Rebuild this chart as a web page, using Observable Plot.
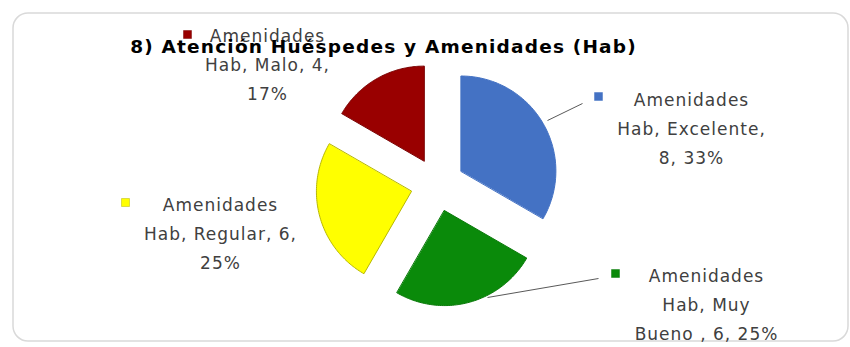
<!DOCTYPE html>
<html>
<head>
<meta charset="utf-8">
<script src="https://cdn.jsdelivr.net/npm/d3@7"></script>
<script src="https://cdn.jsdelivr.net/npm/@observablehq/plot@0.6"></script>
<style>
  html, body { margin: 0; padding: 0; background: #fff; }
  svg { display: block; }
</style>
</head>
<body>
<div id="chart"></div>
<script>
// ---- data ----
const title = "8) Atención Huéspedes y Amenidades (Hab)";
const categories = ["Excelente", "Muy Bueno ", "Regular", "Malo"];
const values = [8, 6, 6, 4];
const percents = ["33%", "25%", "25%", "17%"];
const colors = ["#4472C4", "#0A8A0A", "#FFFF00", "#990000"];
const edgeColors = ["#4472C4", "#0A7A0A", "#B8B800", "#7A0000"];
const labelLines = [
  ["Amenidades", "Hab, Excelente,", "8, 33%"],
  ["Amenidades", "Hab, Muy", "Bueno , 6, 25%"],
  ["Amenidades", "Hab, Regular, 6,", "25%"],
  ["Amenidades", "Hab, Malo, 4,", "17%"]
];

// ---- layout (pixels) ----
const W = 850, H = 347;
const cx = 437, cy = 184, R = 95, explode = 27;
const labelPos = [ // [text center x, first line y, square x, square y]
  [691, 100, 598, 96],
  [706, 276, 615, 273],
  [220, 205, 125, 202],
  [267, 36, 187, 34]
];
const lineH = 29;
const leaders = [
  [[547, 120], [582, 103]],
  [[487, 297], [598, 278]]
];

// ---- slice geometry from d3.pie ----
const arcs = d3.pie().sort(null).startAngle(0).endAngle(2 * Math.PI)(values);
const slicePts = [];
arcs.forEach((a, i) => {
  const mid = (a.startAngle + a.endAngle) / 2;
  const ox = cx + explode * Math.sin(mid);
  const oy = cy - explode * Math.cos(mid);
  slicePts.push({k: i, x: ox, y: oy});
  const n = 80;
  for (let j = 0; j <= n; j++) {
    const t = a.startAngle + (a.endAngle - a.startAngle) * j / n;
    slicePts.push({k: i, x: ox + R * Math.sin(t), y: oy - R * Math.cos(t)});
  }
});

const textRows = [];
labelLines.forEach((lines, i) => {
  lines.forEach((s, j) => textRows.push({k: i, x: labelPos[i][0], y: labelPos[i][1] + j * lineH, s}));
});
const squares = labelPos.map((p, i) => ({k: i, x: p[2], y: p[3]}));
const leaderRows = leaders.map(l => ({x1: l[0][0], y1: l[0][1], x2: l[1][0], y2: l[1][1]}));

const chart = Plot.plot({
  width: W, height: H,
  margin: 0,
  x: {domain: [0, W], range: [0, W], axis: null},
  y: {domain: [0, H], range: [0, H], axis: null},
  style: {background: "#fff"},
  marks: [
    Plot.rect([{}], {x1: 13, x2: 848, y1: 13, y2: 341, fill: "none", stroke: "#d9d9d9", strokeWidth: 1.5, rx: 15}),
    Plot.line(slicePts, {x: "x", y: "y", z: "k", curve: "linear-closed",
      fill: d => colors[d.k], stroke: d => edgeColors[d.k], strokeWidth: 1}),
    Plot.link(leaderRows, {x1: "x1", y1: "y1", x2: "x2", y2: "y2", stroke: "#595959", strokeWidth: 1}),
    Plot.dot(squares, {x: "x", y: "y", symbol: "square", r: 4.5, fill: d => colors[d.k], stroke: d => edgeColors[d.k], strokeWidth: 0.5}),
    Plot.text(textRows, {x: "x", y: "y", text: "s", fill: "#404040", fontSize: 17,
      fontFamily: "DejaVu Sans", textAnchor: "middle"}),
    Plot.text([title], {x: 383, y: 47, text: d => d, fontSize: 18.5, fontWeight: "bold",
      fontFamily: "DejaVu Sans", fill: "#000", textAnchor: "middle"})
  ]
});
d3.select(chart).selectAll("text").each(function() {
  const isTitle = this.textContent === title;
  this.style.letterSpacing = isTitle ? "1.2px" : "1px";
});
document.getElementById("chart").appendChild(chart);
</script>
</body>
</html>
